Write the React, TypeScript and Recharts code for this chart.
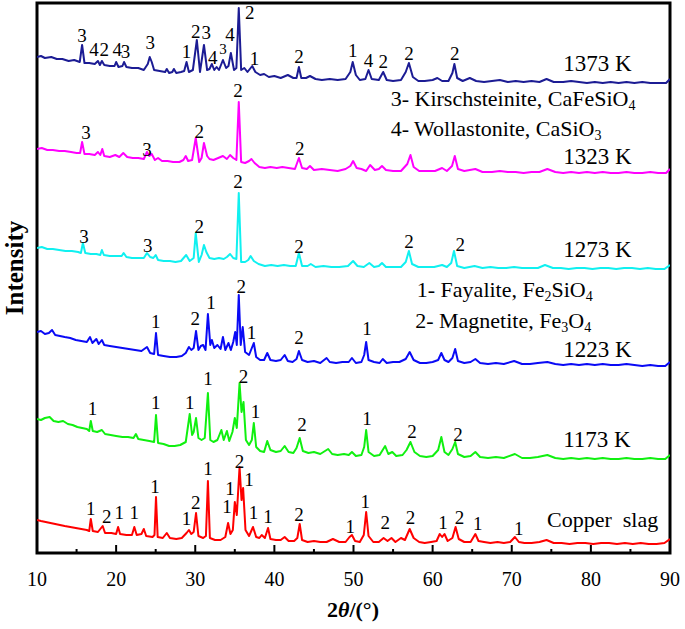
import React from 'react';
import { LineChart, Line, XAxis, YAxis, ReferenceArea, ReferenceDot } from 'recharts';

const SERIF = '"Liberation Serif", "Times New Roman", serif';

// 2θ (°) against intensity (a.u.); the patterns are stacked as in the figure
const slag: [number, number][] = [
  [10, 33], [10.5, 32], [11.1, 31], [11.7, 30], [12.3, 29], [12.9, 28], [13.5, 27], [14.2, 26], [14.9, 25], [15.6, 24],
  [16.3, 23], [16.6, 22], [16.8, 34], [17.05, 22], [17.7, 21], [18.3, 27], [18.6, 20], [19.4, 20], [20, 19], [20.25, 26],
  [20.5, 19], [21.3, 18], [22, 18], [22.3, 26], [22.6, 18], [23.2, 19], [23.5, 24], [23.8, 17], [24.6, 16], [24.85, 18],
  [25.04, 56], [25.25, 16], [25.9, 15], [26.4, 20], [26.8, 15], [27.6, 14], [28.3, 15], [28.9, 20], [29.2, 23], [29.5, 19],
  [29.8, 21], [30.1, 40], [30.4, 17], [31, 15], [31.35, 17], [31.6, 72], [31.85, 15], [32.5, 13], [33.2, 13], [33.8, 16],
  [34.15, 30], [34.45, 19], [34.75, 23], [35, 51], [35.25, 38], [35.6, 86], [35.85, 53], [36.05, 65], [36.35, 23], [36.8, 17],
  [37.3, 26], [37.7, 16], [38.1, 15], [38.4, 18], [38.8, 15], [39.2, 25], [39.5, 14], [40.2, 13], [40.8, 13], [41.3, 16],
  [41.8, 12], [42.5, 12], [42.9, 15], [43.2, 29], [43.5, 13], [44.2, 11], [45, 12], [45.8, 11], [46.6, 11], [47.4, 14],
  [48.2, 11], [49, 11], [49.5, 16], [49.8, 18], [50.2, 12], [50.8, 11], [51.3, 18], [51.6, 41], [51.9, 17], [52.5, 11],
  [53.2, 11], [53.8, 15], [54.3, 12], [54.8, 15], [55.3, 11], [56, 15], [56.5, 13], [57.1, 24], [57.6, 15], [58.3, 11],
  [59, 10], [59.8, 11], [60.5, 12], [60.9, 19], [61.2, 16], [61.5, 19], [61.9, 12], [62.5, 15], [62.9, 26], [63.3, 14],
  [64, 11], [64.8, 11], [65.4, 19], [65.8, 12], [66.5, 11], [67.3, 10], [68.2, 11], [69, 10], [69.8, 11], [70.4, 16],
  [70.9, 11], [71.6, 10], [72.5, 10], [73.5, 11], [74.4, 13], [75.3, 10], [76.3, 10], [77.3, 9], [78.3, 10], [79.3, 10],
  [80.3, 9], [81.3, 10], [82.3, 10], [83.3, 9], [84.3, 10], [85.3, 9], [86.3, 10], [87.3, 9], [88.3, 9], [89.3, 10], [90, 14],
];

const k1173: [number, number][] = [
  [10, 134], [10.5, 133], [11, 135], [11.6, 136], [12.1, 132], [12.7, 131], [13.3, 132], [13.9, 129], [14.5, 128], [15.1, 126],
  [15.7, 125], [16.3, 124], [16.6, 122], [16.8, 132], [17.05, 122], [17.6, 121], [18.2, 123], [18.6, 119], [19.3, 118], [20, 117],
  [20.8, 116], [21.5, 116], [22.2, 115], [22.5, 119], [22.8, 114], [23.5, 113], [24.2, 112], [24.8, 111], [25.04, 138], [25.3, 110],
  [26, 109], [26.7, 107], [27.4, 107], [28.1, 108], [28.8, 111], [29.3, 139], [29.6, 118], [29.8, 121], [30.1, 135], [30.4, 115],
  [30.8, 113], [31.2, 115], [31.6, 160], [31.9, 113], [32.3, 111], [32.8, 113], [33.3, 123], [33.6, 113], [34, 122], [34.3, 112],
  [34.7, 121], [35, 135], [35.25, 125], [35.6, 170], [35.85, 141], [36.1, 151], [36.4, 113], [36.8, 108], [37.15, 113], [37.4, 130],
  [37.7, 106], [38.2, 102], [38.7, 101], [39.1, 112], [39.5, 103], [40.2, 101], [40.8, 102], [41.3, 107], [41.8, 101], [42.4, 100],
  [42.8, 105], [43.2, 115], [43.6, 102], [44.3, 100], [45, 101], [45.8, 99], [46.8, 104], [47.3, 99], [48, 98], [48.8, 99],
  [49.4, 98], [49.8, 101], [50.3, 97], [51, 98], [51.35, 106], [51.6, 123], [51.9, 101], [52.6, 97], [53.3, 98], [54, 107],
  [54.4, 99], [54.9, 101], [55.4, 97], [56.2, 98], [56.7, 103], [57.2, 111], [57.7, 101], [58.4, 97], [59.2, 96], [60, 97],
  [60.7, 103], [61.1, 116], [61.5, 101], [62, 98], [62.5, 104], [62.85, 111], [63.2, 99], [64, 96], [64.8, 97], [65.4, 101],
  [66, 96], [67, 95], [68, 96], [69, 95], [70.4, 99], [71.3, 95], [72.3, 95], [73.3, 96], [74.5, 98], [75.5, 95],
  [76.5, 94], [77.5, 95], [78.5, 94], [79.5, 95], [80.5, 94], [81.5, 95], [82.5, 94], [83.5, 94], [84.5, 95], [85.5, 94],
  [86.5, 94], [87.5, 95], [88.5, 94], [89.4, 94], [90, 98],
];

const k1223: [number, number][] = [
  [10, 221], [10.5, 222], [11, 219], [11.5, 220], [11.9, 223], [12.3, 218], [12.9, 217], [13.5, 216], [14.2, 215], [14.9, 213],
  [15.6, 212], [16.3, 211], [16.7, 216], [17, 210], [17.5, 214], [17.8, 209], [18.2, 213], [18.5, 208], [19.2, 207], [20, 206],
  [20.8, 205], [21.6, 204], [22.4, 203], [23.2, 202], [23.9, 206], [24.3, 200], [24.8, 199], [25.04, 220], [25.3, 198], [26, 197],
  [26.8, 196], [27.6, 196], [28.3, 197], [28.8, 200], [29.2, 206], [29.5, 203], [29.8, 205], [30.1, 222], [30.4, 203], [30.7, 207],
  [31, 208], [31.3, 203], [31.6, 239], [31.9, 208], [32.1, 213], [32.4, 205], [32.8, 208], [33.2, 204], [33.5, 216], [33.8, 203],
  [34.2, 210], [34.5, 203], [34.8, 211], [35.05, 221], [35.25, 208], [35.5, 258], [35.75, 208], [36, 226], [36.3, 201], [36.8, 198],
  [37.1, 204], [37.4, 210], [37.7, 196], [38.2, 193], [38.7, 193], [39.1, 200], [39.5, 193], [40.2, 192], [40.8, 193], [41.3, 198],
  [41.7, 192], [42.3, 191], [42.8, 194], [43.1, 202], [43.5, 193], [44.2, 191], [45, 192], [45.8, 190], [46.6, 195], [47, 191],
  [47.8, 190], [48.6, 191], [49.4, 191], [49.8, 195], [50.3, 190], [51, 191], [51.35, 198], [51.6, 211], [51.9, 193], [52.6, 191],
  [53.3, 190], [53.7, 194], [54.2, 190], [55, 191], [55.8, 191], [56.6, 194], [57.1, 201], [57.6, 193], [58.4, 190], [59.2, 190],
  [60, 191], [60.7, 193], [61.1, 200], [61.5, 193], [62, 191], [62.5, 195], [62.85, 204], [63.2, 192], [64, 190], [64.8, 191],
  [65.4, 194], [66, 190], [67, 189], [68, 190], [69, 189], [70.3, 192], [71.3, 189], [72.3, 189], [73.3, 190], [74.5, 191],
  [75.5, 189], [76.5, 188], [77.5, 189], [78.5, 188], [79.5, 189], [80.5, 188], [81.5, 189], [82.5, 188], [83.5, 188], [84.5, 189],
  [85.5, 188], [86.5, 187], [87.5, 188], [88.5, 187], [89.4, 187], [90, 191],
];

const k1273: [number, number][] = [
  [10, 305], [10.6, 306], [11.3, 304], [12, 304], [12.8, 303], [13.6, 302], [14.4, 302], [15.2, 301], [15.55, 300], [15.8, 310],
  [16.1, 300], [16.8, 299], [17.5, 299], [18, 298], [18.2, 303], [18.45, 298], [19.2, 297], [20, 297], [20.7, 297], [20.95, 300],
  [21.3, 296], [22, 295], [22.8, 295], [23.5, 295], [23.9, 300], [24.3, 296], [24.7, 295], [25, 298], [25.3, 293], [26, 292],
  [26.8, 292], [27.5, 291], [28.2, 292], [28.85, 298], [29.3, 292], [29.8, 295], [30.06, 320], [30.45, 291], [30.8, 298], [31.1, 308],
  [31.4, 301], [31.8, 295], [32.4, 294], [33, 295], [33.6, 294], [34, 296], [34.4, 299], [34.8, 295], [35.2, 294], [35.5, 360],
  [35.8, 291], [36.3, 291], [36.7, 293], [37, 297], [37.4, 292], [38, 289], [38.8, 287], [39.6, 288], [40.4, 287], [41.2, 288],
  [42, 287], [42.7, 287], [43.1, 300], [43.5, 287], [44.2, 287], [44.6, 289], [45.2, 286], [46.2, 287], [47.2, 286], [48.2, 286],
  [49.3, 287], [49.95, 292], [50.5, 287], [51.3, 286], [52, 290], [52.6, 286], [53.2, 287], [53.6, 290], [54.1, 286], [55, 286],
  [56, 286], [56.6, 291], [57, 302], [57.4, 289], [58.2, 286], [59.2, 286], [60.2, 286], [61.2, 288], [61.8, 286], [62.35, 290],
  [62.7, 302], [63.1, 287], [64, 285], [65.3, 287], [66.3, 285], [67.3, 286], [68.3, 285], [69.3, 285], [70.3, 286], [71.3, 285],
  [72.3, 285], [73.3, 285], [74.2, 288], [75.2, 285], [76.2, 285], [77.2, 284], [78.2, 285], [79.2, 285], [80.2, 284], [81.2, 285],
  [82.2, 285], [83.2, 284], [84.2, 285], [85.2, 285], [86.2, 284], [87.2, 285], [88.2, 284], [89.3, 284], [90, 288],
];

const k1323: [number, number][] = [
  [10, 404], [10.6, 405], [11.3, 403], [12, 403], [12.8, 402], [13.5, 402], [14.3, 401], [15, 400], [15.45, 400], [15.7, 411],
  [16, 399], [16.6, 399], [17.3, 398], [17.7, 401], [18, 398], [18.25, 404], [18.5, 397], [19.2, 396], [19.9, 398], [20.4, 396],
  [20.9, 400], [21.4, 396], [22.1, 395], [22.8, 395], [23.5, 394], [23.9, 401], [24.2, 397], [24.5, 399], [24.9, 393], [25.3, 395],
  [25.8, 392], [26.5, 392], [27.2, 391], [28, 391], [28.5, 393], [28.8, 397], [29.1, 392], [29.6, 393], [30.06, 415], [30.5, 391],
  [30.8, 395], [31.1, 410], [31.5, 397], [31.8, 394], [32.3, 393], [32.9, 395], [33.5, 397], [34, 394], [34.4, 398], [34.8, 395],
  [35.2, 393], [35.5, 451], [35.8, 391], [36.3, 390], [36.8, 392], [37.1, 394], [37.5, 390], [38.1, 386], [38.8, 385], [39.5, 386],
  [40.3, 385], [41, 386], [41.8, 385], [42.6, 384], [43.1, 395], [43.5, 385], [44.1, 384], [44.5, 387], [45, 383], [46, 384],
  [47, 383], [48, 382], [49, 384], [49.6, 387], [49.95, 392], [50.4, 385], [51, 384], [51.6, 382], [52.1, 388], [52.7, 383],
  [53.2, 384], [53.6, 387], [54.1, 383], [55, 382], [56, 382], [56.8, 389], [57.2, 398], [57.6, 386], [58.3, 382], [59.3, 382],
  [60.3, 382], [61.2, 385], [61.8, 382], [62.45, 387], [62.8, 397], [63.2, 384], [64, 382], [65.4, 384], [66.3, 381], [67.5, 381],
  [68.5, 382], [69.5, 381], [70.5, 381], [71.5, 380], [72.5, 381], [73.5, 381], [74.5, 384], [75.5, 381], [76.5, 380], [77.5, 381],
  [78.5, 380], [79.5, 381], [80.5, 380], [81.5, 381], [82.5, 380], [83.5, 380], [84.5, 381], [85.5, 380], [86.5, 380], [87.5, 381],
  [88.5, 380], [89.5, 380], [90, 384],
];

const k1373: [number, number][] = [
  [10, 496], [10.5, 497], [11, 495], [11.8, 496], [12.5, 494], [13.2, 494], [14, 492], [14.7, 493], [15.4, 491], [15.7, 508],
  [16, 490], [16.6, 490], [17.3, 489], [17.7, 492], [17.95, 488], [18.2, 492], [18.5, 488], [19.2, 487], [19.8, 487], [20, 491],
  [20.3, 486], [20.8, 487], [21, 491], [21.3, 486], [22, 485], [22.8, 485], [23.5, 483], [24, 489], [24.25, 496], [24.5, 491],
  [24.8, 483], [25.5, 482], [26.2, 481], [26.4, 484], [26.7, 480], [27.1, 481], [27.3, 484], [27.6, 480], [28.2, 481], [28.6, 482],
  [28.9, 491], [29.2, 481], [29.7, 483], [30.2, 513], [30.6, 481], [31.1, 508], [31.5, 483], [31.8, 484], [32.1, 489], [32.4, 483],
  [32.7, 486], [33, 483], [33.5, 493], [33.9, 485], [34.2, 487], [34.5, 500], [34.9, 483], [35.2, 485], [35.5, 545], [35.8, 483],
  [36.2, 485], [36.6, 481], [37.2, 487], [37.6, 481], [38.2, 478], [38.7, 479], [39.3, 476], [40, 477], [40.8, 475], [41.7, 478],
  [42.4, 475], [42.8, 475], [43.1, 486], [43.4, 475], [44, 475], [44.5, 477], [45.2, 474], [46, 473], [47, 474], [48, 473],
  [49, 474], [49.6, 481], [49.9, 491], [50.3, 478], [50.8, 473], [51.5, 474], [51.9, 483], [52.3, 474], [53.2, 473], [53.75, 481],
  [54.2, 473], [55, 472], [56, 473], [56.6, 481], [57, 490], [57.5, 476], [58.2, 472], [59, 472], [60, 473], [60.6, 475],
  [61.2, 472], [62, 472], [62.5, 480], [62.75, 489], [63.1, 475], [63.8, 472], [64.7, 475], [65.5, 472], [66.5, 471], [67.5, 472],
  [68.5, 473], [69.5, 471], [70.5, 472], [71.5, 471], [72.5, 472], [73.5, 471], [74.4, 474], [75.3, 471], [76.5, 471], [77.5, 472],
  [78.5, 471], [79.5, 470], [80.5, 471], [81.5, 470], [82.5, 471], [83.5, 470], [84.5, 471], [85.5, 470], [86.5, 471], [87.5, 470],
  [88.5, 470], [89.5, 470], [90, 474],
];

// phase marks: [2θ, height, phase number]
const slagMarks: [number, number, string][] = [
  [16.8, 38, '1'], [18.8, 30, '2'], [20.4, 34, '1'], [22.3, 34, '1'], [24.9, 60, '1'], [28.9, 28, '1'], [30.06, 44, '2'],
  [31.6, 78, '1'], [34.0, 40, '1'], [34.4, 58, '1'], [35.6, 85, '2'], [36.8, 67, '1'], [37.35, 34, '1'], [39.2, 30, '1'],
  [43.1, 32, '2'], [49.6, 20, '1'], [51.5, 45, '1'], [54.0, 24, '2'], [57.2, 29, '2'], [61.3, 24, '1'], [63.4, 29, '2'],
  [65.7, 23, '1'], [70.9, 18, '1'],
];
const marks1173: [number, number, string][] = [
  [17.0, 138, '1'], [25.0, 144, '1'], [29.3, 144, '1'], [31.6, 168, '1'], [36.1, 170, '2'], [37.6, 135, '1'],
  [43.5, 122, '2'], [51.7, 128, '1'], [57.4, 115, '2'], [63.2, 112, '2'],
];
const marks1223: [number, number, string][] = [
  [25.0, 225, '1'], [30.0, 228, '2'], [32.0, 244, '1'], [35.8, 260, '2'], [37.1, 214, '1'], [43.1, 209, '2'], [51.7, 218, '1'],
];
const marks1273: [number, number, string][] = [
  [15.95, 310, '3'], [24.0, 301, '3'], [30.5, 320, '2'], [35.4, 365, '2'], [43.1, 300, '2'], [57.0, 305, '2'], [63.5, 302, '2'],
];
const marks1323: [number, number, string][] = [
  [16.2, 414, '3'], [23.9, 397, '3'], [30.5, 415, '2'], [35.4, 456, '2'], [43.2, 398, '2'],
];
const marks1373: [number, number, string][] = [
  [15.7, 511, '3'], [17.2, 497, '4'], [18.5, 497, '2'], [20.15, 497, '4'], [21.2, 495, '3'], [24.3, 504, '3'], [28.9, 495, '1'],
  [30.06, 515, '2'], [31.4, 514, '3'], [32.2, 489, '4'], [34.4, 512, '4'], [36.9, 534, '2'], [37.5, 488, '1'], [43.1, 490, '2'],
  [49.9, 496, '1'], [51.9, 486, '4'], [53.75, 485, '2'], [57.0, 493, '2'], [62.8, 493, '2'],
];
const smallMarks1373: [number, number, string][] = [[33.5, 499, '3']];

// sample names: [2θ at text start, height, name]
const sampleNames: [number, number, string][] = [
  [76.5, 482, '1373 K'], [76.5, 389, '1323 K'], [76.5, 296, '1273 K'], [76.5, 196, '1223 K'], [76.5, 106, '1173 K'],
];
const slagName: [number, number, string] = [74.45, 26, 'Copper  slag'];

// phase key: [2θ at text start, height, prefix, formula parts]
const phaseKey: [number, number, string, [string, string][]][] = [
  [54.7, 447, '3- Kirschsteinite, ', [['CaFeSiO', '4']]],
  [54.7, 417, '4- Wollastonite, ', [['CaSiO', '3']]],
  [58.0, 256, '1- Fayalite, ', [['Fe', '2'], ['SiO', '4']]],
  [57.8, 225, '2- Magnetite, ', [['Fe', '3'], ['O', '4']]],
];

const xTicks = [10, 15, 20, 25, 30, 35, 40, 45, 50, 55, 60, 65, 70, 75, 80, 85, 90];

const series = [
  { key: 'slag', data: slag, color: '#ff0000' },
  { key: '1173', data: k1173, color: '#10f010' },
  { key: '1223', data: k1223, color: '#0a0af5' },
  { key: '1273', data: k1273, color: '#10f0f0' },
  { key: '1323', data: k1323, color: '#ff00ff' },
  { key: '1373', data: k1373, color: '#1c1c94' },
];

const AxisTick = (props: any) => {
  const { x, y, payload } = props;
  const major = payload.value % 10 === 0;
  return (
    <g>
      <line x1={x} x2={x} y1={y} y2={y - (major ? 8 : 4)} stroke="#000" strokeWidth={2} />
      {major && (
        <text x={x} y={y + 33} textAnchor="middle" fontFamily={SERIF} fontSize={20} fill="#000">
          {payload.value}
        </text>
      )}
    </g>
  );
};

const textShape = (t: string, size: number, anchor: string, pre = false) => (p: any) => (
  <text x={p.cx} y={p.cy} textAnchor={anchor} fontFamily={SERIF} fontSize={size} fill="#000"
    style={pre ? { whiteSpace: 'pre' } : undefined}>
    {t}
  </text>
);

const keyShape = (prefix: string, parts: [string, string][]) => (p: any) => (
  <text x={p.cx} y={p.cy} fontFamily={SERIF} fontSize={22} fill="#000">
    {prefix}
    {parts.map(([main, sub], i) => (
      <React.Fragment key={i}>
        <tspan dy={i === 0 ? 0 : -4}>{main}</tspan>
        <tspan dy={4} fontSize={14}>{sub}</tspan>
      </React.Fragment>
    ))}
  </text>
);

export default function App() {
  const allMarks = [...slagMarks, ...marks1173, ...marks1223, ...marks1273, ...marks1323, ...marks1373];
  return (
    <div style={{ position: 'absolute', left: 0, top: 0, background: '#fff' }}>
      <LineChart width={685} height={629} margin={{ top: 3, right: 15, left: 0, bottom: 0 }}>
        <XAxis
          type="number"
          dataKey="x"
          domain={[10, 90]}
          ticks={xTicks}
          interval={0}
          height={76}
          axisLine={false}
          tickLine={false}
          tickSize={0}
          tickMargin={0}
          tick={<AxisTick />}
          allowDataOverflow
          label={() => (
            <text x={353} y={617} textAnchor="middle" fontFamily={SERIF} fontSize={22} fontWeight="bold" fill="#000">
              2<tspan fontStyle="italic">θ</tspan>/(°)
            </text>
          )}
        />
        <YAxis
          type="number"
          domain={[0, 550]}
          width={37}
          tick={false}
          tickLine={false}
          axisLine={false}
          label={() => (
            <text x={14} y={268} transform="rotate(-90, 14, 268)" textAnchor="middle" dominantBaseline="central"
              fontFamily={SERIF} fontSize={25} fontWeight="bold" fill="#000">
              Intensity
            </text>
          )}
        />
        {series.map((s) => (
          <Line
            key={s.key}
            data={s.data.map(([x, y]) => ({ x, y }))}
            dataKey="y"
            type="linear"
            stroke={s.color}
            strokeWidth={2}
            strokeLinejoin="round"
            dot={false}
            activeDot={false}
            isAnimationActive={false}
          />
        ))}
        <ReferenceArea x1={10} x2={90} y1={0} y2={550} fill="none" stroke="#000" strokeWidth={3} ifOverflow="visible" />
        {allMarks.map(([x, y, t], i) => (
          <ReferenceDot key={`m${i}`} x={x} y={y} r={0} ifOverflow="visible" shape={textShape(t, 19, 'middle')} />
        ))}
        {smallMarks1373.map(([x, y, t], i) => (
          <ReferenceDot key={`s${i}`} x={x} y={y} r={0} ifOverflow="visible" shape={textShape(t, 15, 'middle')} />
        ))}
        {sampleNames.map(([x, y, t], i) => (
          <ReferenceDot key={`n${i}`} x={x} y={y} r={0} ifOverflow="visible" shape={textShape(t, 23, 'start')} />
        ))}
        <ReferenceDot x={slagName[0]} y={slagName[1]} r={0} ifOverflow="visible"
          shape={textShape(slagName[2], 22, 'start', true)} />
        {phaseKey.map(([x, y, prefix, parts], i) => (
          <ReferenceDot key={`k${i}`} x={x} y={y} r={0} ifOverflow="visible" shape={keyShape(prefix, parts)} />
        ))}
      </LineChart>
    </div>
  );
}
